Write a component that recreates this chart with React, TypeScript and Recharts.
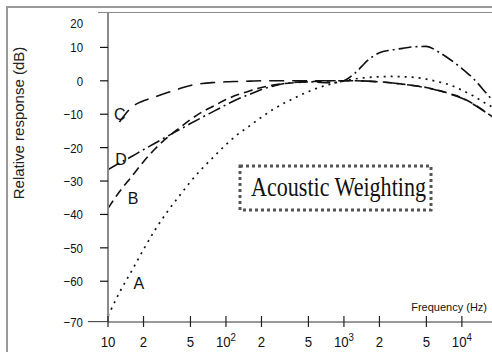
import { LineChart, Line, XAxis, YAxis, ReferenceDot } from 'recharts';

const freqs = [10, 12.5, 16, 20, 25, 31.5, 40, 50, 63, 80, 100, 125, 160, 200, 250, 315, 400, 500, 630, 800, 1000, 1250, 1600, 2000, 2500, 3150, 4000, 5000, 6300, 8000, 10000, 12500, 16000, 18000];

const curveA = [-70.4, -63.4, -56.7, -50.5, -44.7, -39.4, -34.6, -30.2, -26.2, -22.5, -19.1, -16.1, -13.4, -10.9, -8.6, -6.6, -4.8, -3.2, -1.9, -0.8, 0, 0.6, 1.0, 1.2, 1.3, 1.2, 1.0, 0.5, -0.3, -1.3, -2.8, -4.5, -6.8, -7.8];
const curveB = [-38.2, -33.2, -28.5, -24.2, -20.4, -17.1, -14.2, -11.6, -9.3, -7.4, -5.6, -4.2, -3.0, -2.0, -1.3, -0.8, -0.5, -0.3, -0.1, 0, 0, 0, -0.1, -0.3, -0.6, -1.0, -1.5, -2.0, -2.8, -3.9, -5.1, -6.9, -9.4, -10.7];
const curveC = [null, -12.3, -7.8, -6.0, -4.8, -3.6, -2.4, -1.4, -0.8, -0.5, -0.3, -0.2, -0.1, 0, 0, 0, 0, 0, 0, 0, 0, 0, -0.1, -0.3, -0.6, -1.0, -1.5, -2.1, -2.9, -4.0, -5.2, -7.0, -9.5, -10.8];
const curveD = [-26.6, -24.6, -22.6, -20.6, -18.7, -16.7, -14.7, -12.8, -10.9, -9.0, -7.2, -5.5, -4.0, -2.6, -1.6, -0.8, -0.4, -0.3, -0.5, -0.6, 0, 2.4, 6.2, 8.4, 9.2, 9.7, 10.2, 10.3, 8.7, 6.3, 3.7, 0.7, -3.6, -5.7];

const xTicks = [10, 20, 50, 100, 200, 500, 1000, 2000, 5000, 10000];
const xTickLabels = ['10', '2', '5', '10^2', '2', '5', '10^3', '2', '5', '10^4'];
const yTicks = [-70, -60, -50, -40, -30, -20, -10, 0, 10, 20];

// where the curve letters sit (Hz, dB)
const curveNames = ['A', 'B', 'C', 'D'];
const nameAtHz = [18.3, 16.3, 12.6, 12.9];
const nameAtDb = [-60.7, -35.1, -9.9, -23.4];

const data = freqs.map((f, i) => ({ f, A: curveA[i], B: curveB[i], C: curveC[i], D: curveD[i] }));

const SANS = "'Liberation Sans', Arial, sans-serif";

const XTick = ({ x, y, payload }: any) => {
  const i = xTicks.indexOf(payload.value);
  const [base, exp] = (xTickLabels[i] ?? String(payload.value)).split('^');
  return (
    <g>
      <line x1={x} x2={x} y1={y - 6} y2={y + 5} stroke="#222" strokeWidth={1.2} />
      <text
        x={x}
        y={y + 25}
        textAnchor="middle"
        fontSize={15}
        fontFamily={SANS}
        fill="#111"
        transform={`translate(${x} 0) scale(0.88 1) translate(${-x} 0)`}
      >
        {base}
        {exp && <tspan dy={-6} fontSize={11}>{exp}</tspan>}
      </text>
    </g>
  );
};

const YTick = ({ x, y, payload }: any) => {
  const v = payload.value;
  const nudge = v === -70 ? 7 : v === 20 ? 9 : 0;
  return (
    <g>
      {v === -70 && <line x1={x - 20} x2={x} y1={y + nudge} y2={y + nudge} stroke="#333" />}
      {v !== -70 && v !== 20 && <line x1={x - 8} x2={x} y1={y} y2={y} stroke="#111" strokeWidth={1.2} />}
      <text
        x={x - 25}
        y={y + nudge + 5}
        textAnchor="end"
        fontSize={13}
        fontFamily={SANS}
        fill="#111"
        transform={`translate(${x - 25} 0) scale(0.88 1) translate(${25 - x} 0)`}
      >
        {v < 0 ? '\u2212' + Math.abs(v) : v}
      </text>
    </g>
  );
};

export default function App() {
  return (
    <div style={{ position: 'absolute', left: 0, top: 0, width: 492, height: 352, background: '#fff', overflow: 'hidden' }}>
      <div style={{ position: 'absolute', left: 6, top: 6, width: 600, height: 600, borderLeft: '2px solid #9a9a9a', borderTop: '2px solid #9a9a9a' }} />
      <div style={{ position: 'absolute', left: 98, top: 12, width: 400, borderTop: '1.5px solid #8a8a8a' }} />
      <LineChart width={492} height={352} data={data} margin={{ top: 13, right: 0, bottom: 0, left: 0 }}>
        <XAxis
          dataKey="f"
          type="number"
          scale="log"
          domain={[10, 18000]}
          allowDataOverflow
          ticks={xTicks}
          interval={0}
          tick={<XTick />}
          tickSize={0}
          tickMargin={0}
          tickLine={false}
          height={30}
          axisLine={{ stroke: '#333', strokeWidth: 1 }}
          label={{
            content: () => (
              <text x={487} y={311} textAnchor="end" fontSize={11} fontFamily={SANS} fill="#111">
                Frequency (Hz)
              </text>
            ),
          }}
        />
        <YAxis
          type="number"
          domain={[-72.2, 20.3]}
          allowDataOverflow
          ticks={yTicks}
          interval={0}
          tick={<YTick />}
          tickSize={0}
          tickMargin={0}
          tickLine={false}
          width={108}
          axisLine={{ stroke: '#8a8a8a', strokeWidth: 2 }}
          label={{
            content: () => (
              <text x={18} y={123} transform="rotate(-90 18 123)" textAnchor="middle" dominantBaseline="central" fontSize={15} fontFamily={SANS} fill="#222">
                Relative response (dB)
              </text>
            ),
          }}
        />
        <Line type="monotone" dataKey="A" stroke="#111" strokeWidth={1.7} strokeDasharray="2 5" dot={false} isAnimationActive={false} />
        <Line type="monotone" dataKey="B" stroke="#111" strokeWidth={1.6} strokeDasharray="9 5" dot={false} isAnimationActive={false} />
        <Line type="monotone" dataKey="C" stroke="#111" strokeWidth={1.6} strokeDasharray="15 8" dot={false} isAnimationActive={false} />
        <Line type="monotone" dataKey="D" stroke="#111" strokeWidth={1.6} strokeDasharray="13 4 2 4" dot={false} isAnimationActive={false} />
        {curveNames.map((n, i) => (
          <ReferenceDot
            key={n}
            x={nameAtHz[i]}
            y={nameAtDb[i]}
            r={0}
            stroke="none"
            label={{ value: n, position: 'center', fontSize: 16, fontFamily: SANS, fill: '#111' }}
          />
        ))}
      </LineChart>
      <svg width={492} height={352} style={{ position: 'absolute', left: 0, top: 0, pointerEvents: 'none' }}>
        <rect x={240} y={166} width={191} height={44} fill="none" stroke="#555" strokeWidth={3} strokeDasharray="3 3" />
        <text x={251} y={196} fontSize={28} fontFamily="'Liberation Serif', 'Times New Roman', serif" fill="#111" textLength={175} lengthAdjust="spacingAndGlyphs">
          Acoustic Weighting
        </text>
      </svg>
    </div>
  );
}
